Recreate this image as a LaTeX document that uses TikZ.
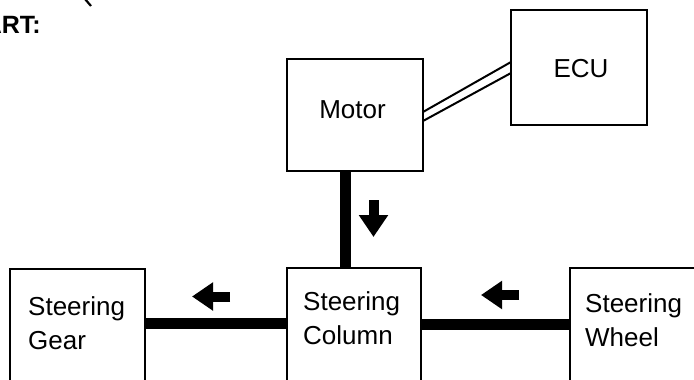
\documentclass[tikz,border=0pt]{standalone}
\usepackage{fontspec}
\setmainfont{Liberation Sans}
\usetikzlibrary{arrows.meta}
\begin{document}
\begin{tikzpicture}[x=1pt,y=-1pt,
  box/.style={draw, line width=2pt, inner sep=0pt, outer sep=0pt},
  lbl/.style={inner sep=0pt, align=left, font=\fontsize{26}{34}\selectfont},
  bar/.style={line width=11pt},
  wire/.style={line width=2pt},
  dirarrow/.style={line width=10pt, -{Triangle[length=21pt,width=27pt]}}]
\useasboundingbox (0,0) rectangle (694,380);
\fill[white] (0,0) rectangle (694,380);
\clip (0,0) rectangle (694,380);
% boxes
\node[box, minimum width=136pt, minimum height=112pt] (motor) at (355,115) {};
\node[box, minimum width=136pt, minimum height=115pt] (ecu) at (579,67.5) {};
\node[box, minimum width=135pt, minimum height=150pt, anchor=north] (gear) at (77.5,269) {};
\node[box, minimum width=134pt, minimum height=150pt, anchor=north] (column) at (354,268) {};
\node[box, minimum width=150pt, minimum height=150pt, anchor=north] (wheel) at (645,268) {};
% labels
\node[lbl, anchor=base] (motorlbl) at (352.5,118) {Motor};
\node[lbl, anchor=base] (eculbl) at (581,77) {ECU};
\node[lbl, anchor=base west] (gearlbl) at (28,349) {Steering\\Gear};
\node[lbl, anchor=base west] (columnlbl) at (303,344) {Steering\\Column};
\node[lbl, anchor=base west] (wheellbl) at (585,346) {Steering\\Wheel};
% shafts
\coordinate (by1) at (0,323);
\coordinate (by2) at (0,324);
\coordinate (vx) at (345,0);
\draw[bar] (gear.east |- by1) -- (column.west |- by1);
\draw[bar] (column.east |- by2) -- (wheel.west |- by2);
\draw[bar] (motor.south -| vx) -- (column.north -| vx);
% electrical link
\draw[wire] ([yshift=3pt]motor.east) -- ([yshift=5.5pt]ecu.west);
\draw[wire] ([yshift=-6pt]motor.east) -- ([yshift=-5.5pt]ecu.west);
% direction arrows
\draw[dirarrow] (230,296.5) -- (192,296.5);
\draw[dirarrow] (519,295) -- (481,295);
\draw[dirarrow, -{Triangle[length=22pt,width=28pt]}] (373.5,200) -- (373.5,237);
% cropped heading
\node[inner sep=0pt, anchor=base east, font=\fontsize{25}{30}\selectfont\bfseries] (heading) at (41,34) {ART:};
\draw[line width=2.2pt] (85,-1) -- (91,6);
\end{tikzpicture}
\end{document}
